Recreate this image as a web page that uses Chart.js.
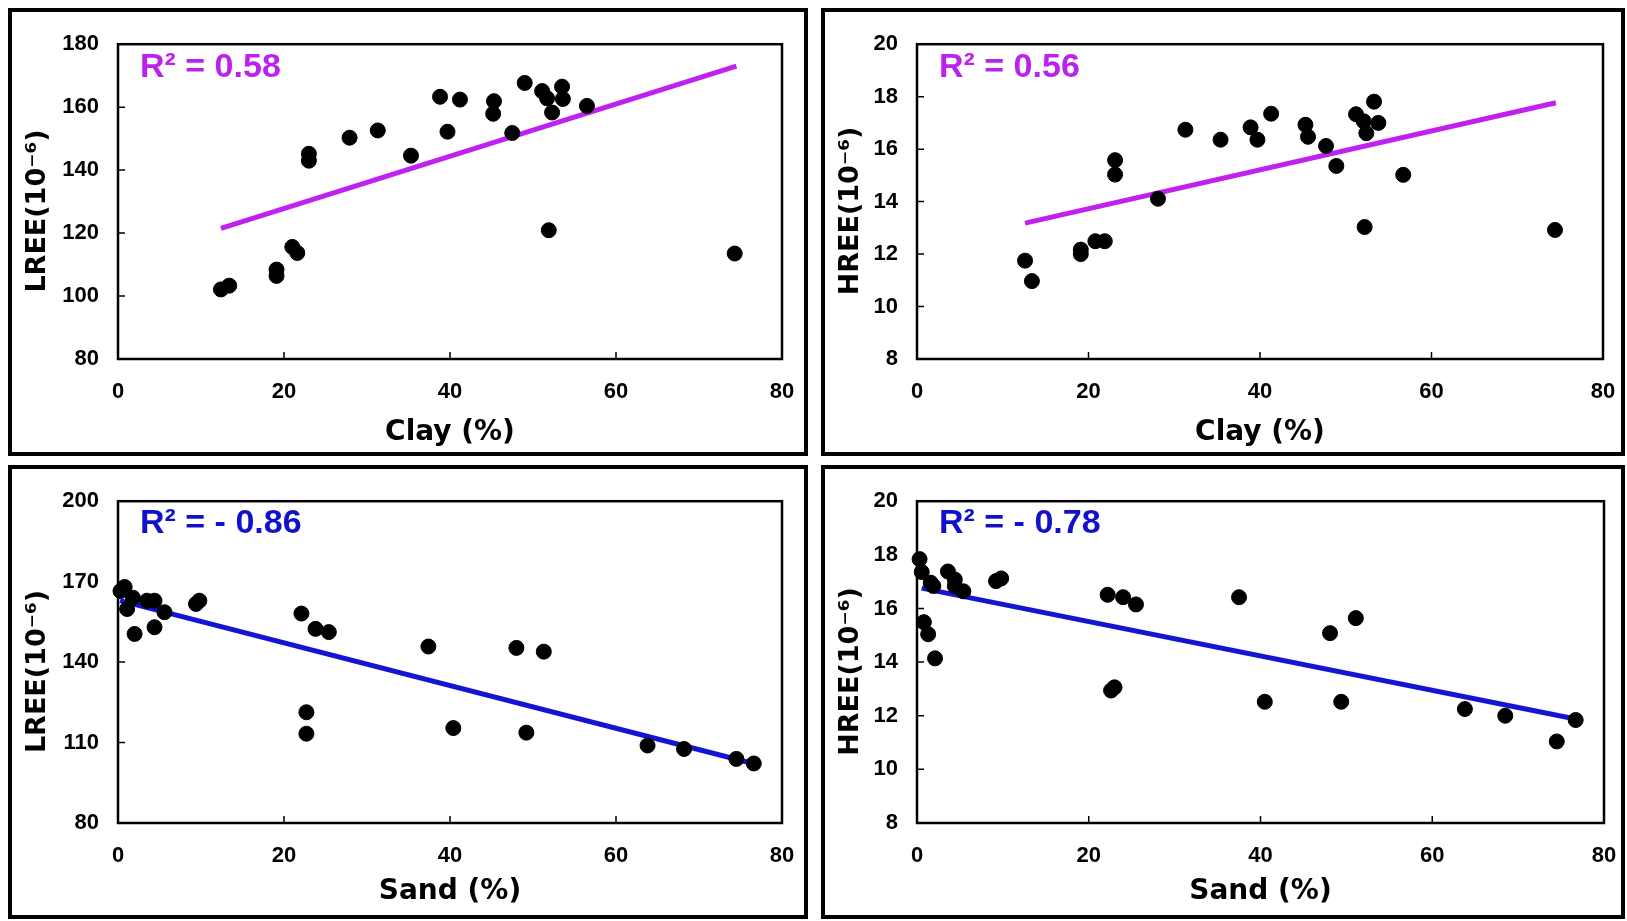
<!DOCTYPE html>
<html>
<head>
<meta charset="utf-8">
<script src="https://cdn.jsdelivr.net/npm/chart.js@4.4.1/dist/chart.umd.min.js"></script>
<style>
  body { margin: 0; background: #fff; width: 1627px; height: 921px; position: relative; overflow: hidden; }
  .panel { position: absolute; border: 4px solid #000; box-sizing: border-box; background: #fff; }
  .panel canvas { display: block; }
  .r2 { position: absolute; font: bold 34px "Liberation Sans", Arial, sans-serif; line-height: 34px; white-space: nowrap; }
  .magenta { color: #bb22ee; }
  .blue { color: #1111cc; }
</style>
</head>
<body>
<div class="panel" style="left:8px;top:8px;width:800px;height:448px"><canvas id="c1" width="792" height="440"></canvas></div>
<div class="panel" style="left:821px;top:8px;width:804px;height:448px"><canvas id="c2" width="796" height="440"></canvas></div>
<div class="panel" style="left:8px;top:465px;width:800px;height:454px"><canvas id="c3" width="792" height="446"></canvas></div>
<div class="panel" style="left:821px;top:465px;width:804px;height:454px"><canvas id="c4" width="796" height="446"></canvas></div>

<div class="r2 magenta" style="left:140px;top:48px">R² = 0.58</div>
<div class="r2 magenta" style="left:939px;top:48px">R² = 0.56</div>
<div class="r2 blue" style="left:140px;top:504px">R² = - 0.86</div>
<div class="r2 blue" style="left:939px;top:504px">R² = - 0.78</div>

<script>
// clay vs LREE (top left)
const clayLree = [12.4, 13.4, 19.1, 19.1, 21.0, 21.6, 23.0, 23.0, 27.9, 31.3, 35.3, 38.8, 39.7, 41.2, 45.3, 45.2, 47.5, 49.0, 51.1, 51.7, 52.3, 53.5, 53.6, 56.5, 51.9, 74.3];
const lreeClay = [102.1, 103.3, 108.4, 106.4, 115.6, 113.7, 145.2, 143.0, 150.3, 152.6, 144.6, 163.3, 152.2, 162.4, 161.9, 157.9, 151.8, 167.7, 165.1, 162.8, 158.3, 166.5, 162.6, 160.4, 120.9, 113.5];
const lreeClayTrendX = [12.4, 74.5];
const lreeClayTrendY = [121.5, 173.0];

// clay vs HREE (top right)
const clayHree = [12.6, 13.4, 19.1, 19.1, 20.8, 21.9, 23.1, 23.1, 28.1, 31.3, 35.4, 38.9, 39.7, 41.3, 45.3, 45.6, 47.7, 48.9, 51.2, 52.1, 52.4, 53.3, 53.8, 56.7, 52.2, 74.4];
const hreeClay = [11.75, 10.97, 12.17, 12.0, 12.49, 12.49, 15.58, 15.03, 14.11, 16.74, 16.36, 16.83, 16.36, 17.35, 16.93, 16.47, 16.12, 15.36, 17.33, 17.06, 16.61, 17.81, 17.0, 15.02, 13.03, 12.92];
const hreeClayTrendX = [12.6, 74.5];
const hreeClayTrendY = [13.18, 17.77];

// sand vs LREE (bottom left)
const sandLree = [0.3, 0.8, 1.8, 1.1, 2.0, 3.5, 4.4, 4.4, 5.6, 9.4, 9.8, 22.1, 23.8, 25.4, 22.7, 22.7, 37.4, 40.4, 48.0, 49.2, 51.3, 63.8, 68.2, 74.5, 76.6];
const lreeSand = [166.5, 168.0, 164.0, 159.8, 150.5, 162.9, 162.9, 153.0, 158.6, 161.7, 162.9, 158.1, 152.4, 151.2, 121.3, 113.3, 145.8, 115.4, 145.3, 113.7, 143.9, 108.9, 107.6, 103.9, 102.2];
const lreeSandTrendX = [0.25, 76.6];
const lreeSandTrendY = [162.9, 102.1];

// sand vs HREE (bottom right)
const sandHree = [0.3, 0.55, 0.8, 1.3, 1.6, 1.9, 2.1, 3.6, 4.4, 4.4, 5.4, 9.2, 9.8, 22.2, 24.0, 25.5, 22.6, 23.0, 37.5, 40.5, 48.1, 49.4, 51.1, 63.8, 68.5, 74.5, 76.7];
const hreeSand = [17.84, 17.36, 15.49, 15.04, 16.96, 16.84, 14.14, 17.38, 17.08, 16.84, 16.64, 17.02, 17.12, 16.51, 16.42, 16.15, 12.94, 13.06, 16.42, 12.52, 15.08, 12.52, 15.64, 12.25, 12.0, 11.04, 11.84];
const hreeSandTrendX = [0.55, 76.7];
const hreeSandTrendY = [16.76, 11.88];

Chart.defaults.font.family = '"Liberation Sans", Arial, sans-serif';
Chart.defaults.color = '#000';

// plot box + inward tick marks
const framePlugin = {
  id: 'frame',
  beforeDatasetsDraw(chart) {
    const { ctx, chartArea: a, scales } = chart;
    ctx.save();
    ctx.strokeStyle = '#000';
    ctx.lineWidth = 2.5;
    ctx.strokeRect(a.left, a.top, a.right - a.left, a.bottom - a.top);
    ctx.lineWidth = 1.5;
    ctx.beginPath();
    scales.y.ticks.forEach(t => {
      const py = scales.y.getPixelForValue(t.value);
      ctx.moveTo(a.left, py);
      ctx.lineTo(a.left + 7, py);
    });
    scales.x.ticks.forEach(t => {
      const px = scales.x.getPixelForValue(t.value);
      ctx.moveTo(px, a.bottom);
      ctx.lineTo(px, a.bottom - 7);
    });
    ctx.stroke();
    ctx.restore();
  }
};

function toPoints(xs, ys) {
  return xs.map((x, i) => ({ x: x, y: ys[i] }));
}

function makeChart(id, o) {
  return new Chart(document.getElementById(id), {
    type: 'scatter',
    plugins: [framePlugin],
    data: {
      datasets: [
        {
          data: toPoints(o.xs, o.ys),
          backgroundColor: '#000',
          borderColor: '#000',
          pointRadius: 7.5,
          pointHoverRadius: 7.5,
          order: 1,
          clip: false
        },
        {
          data: toPoints(o.trendX, o.trendY),
          showLine: true,
          borderColor: o.color,
          borderWidth: 5,
          pointRadius: 0,
          order: 2,
          clip: false
        }
      ]
    },
    options: {
      responsive: false,
      animation: false,
      layout: { padding: { left: 0, top: o.padTop, right: o.padRight, bottom: 0 } },
      plugins: { legend: { display: false }, tooltip: { enabled: false } },
      scales: {
        x: {
          type: 'linear',
          min: 0,
          max: 80,
          grid: { display: false, drawTicks: false },
          border: { display: false },
          ticks: { stepSize: 20, autoSkip: false, padding: 20, font: { size: 22, weight: 'bold' } },
          title: {
            display: true,
            text: o.xTitle,
            font: { family: '"DejaVu Sans", sans-serif', size: 28, weight: 'bold', lineHeight: 1.2 },
            padding: { top: 0, bottom: o.xTitlePad }
          },
          afterFit: s => {
            s.height = o.xHeight;
            // keep the end labels from pushing the plot box inwards
            s.paddingLeft = 0;
            s.paddingRight = 0;
          }
        },
        y: {
          type: 'linear',
          min: o.yMin,
          max: o.yMax,
          grid: { display: false, drawTicks: false },
          border: { display: false },
          ticks: { stepSize: o.yStep, autoSkip: false, padding: 19, font: { size: 22, weight: 'bold' } },
          title: {
            display: true,
            text: o.yTitle,
            font: { family: '"DejaVu Sans", sans-serif', size: 27, weight: 'bold', lineHeight: 1.2 },
            padding: { top: 10, bottom: 0 }
          },
          afterFit: s => { s.width = o.left; }
        }
      }
    }
  });
}

makeChart('c1', {
  xs: clayLree, ys: lreeClay, trendX: lreeClayTrendX, trendY: lreeClayTrendY, color: '#c020f0',
  yMin: 80, yMax: 180, yStep: 20, xTitle: 'Clay (%)', yTitle: 'LREE(10⁻⁶)  ',
  left: 106, padTop: 21, padRight: 22, xHeight: 93, xTitlePad: 2
});
makeChart('c2', {
  xs: clayHree, ys: hreeClay, trendX: hreeClayTrendX, trendY: hreeClayTrendY, color: '#c020f0',
  yMin: 8, yMax: 20, yStep: 2, xTitle: 'Clay (%)', yTitle: 'HREE(10⁻⁶)  ',
  left: 92, padTop: 21, padRight: 18, xHeight: 93, xTitlePad: 2
});
makeChart('c3', {
  xs: sandLree, ys: lreeSand, trendX: lreeSandTrendX, trendY: lreeSandTrendY, color: '#1414d4',
  yMin: 80, yMax: 200, yStep: 30, xTitle: 'Sand (%)', yTitle: 'LREE(10⁻⁶)  ',
  left: 106, padTop: 23, padRight: 22, xHeight: 92, xTitlePad: 6
});
makeChart('c4', {
  xs: sandHree, ys: hreeSand, trendX: hreeSandTrendX, trendY: hreeSandTrendY, color: '#1414d4',
  yMin: 8, yMax: 20, yStep: 2, xTitle: 'Sand (%)', yTitle: 'HREE(10⁻⁶)  ',
  left: 92, padTop: 23, padRight: 17, xHeight: 92, xTitlePad: 6
});
</script>
</body>
</html>
